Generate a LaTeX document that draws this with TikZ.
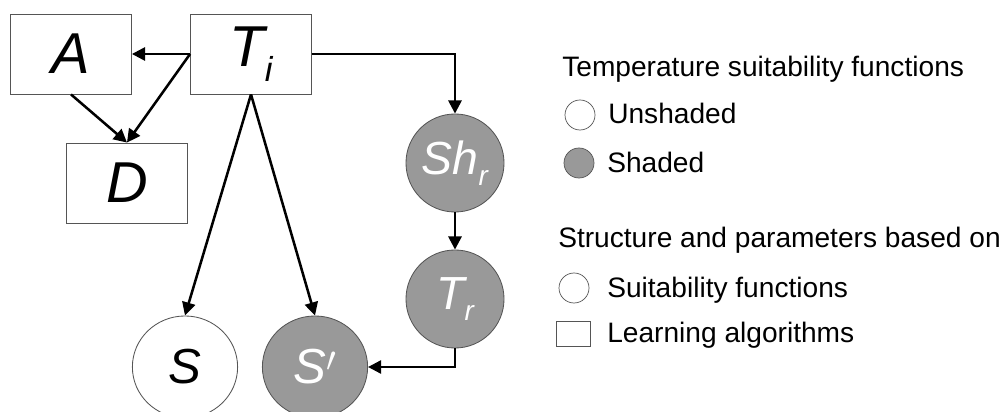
\documentclass[tikz,border=0pt]{standalone}
\usepackage{fontspec}
\setmainfont{Liberation Sans}
\usetikzlibrary{positioning,calc,arrows.meta,shapes.geometric}
\definecolor{shadegray}{HTML}{999999}
\definecolor{edgegray}{HTML}{555555}
\newcommand{\lowsub}[1]{\raisebox{-0.25em}{\scalebox{0.6}{#1}}}
\tikzset{
  figfont/.style={font=\fontsize{20}{24}\selectfont},
  varbox/.style={draw=edgegray, line width=0.6pt, fill=white, inner sep=0pt,
    minimum width=3.025cm, minimum height=2cm,
    font=\fontsize{41}{41}\selectfont\itshape},
  varnode/.style={ellipse, draw=edgegray, line width=0.6pt, inner sep=0pt},
  shadednode/.style={varnode, fill=shadegray, text=white},
  bignode/.style={minimum width=2.45cm, minimum height=2.45cm,
    font=\fontsize{33}{33}\selectfont\itshape},
  smallnode/.style={minimum width=2.63cm, minimum height=2.55cm,
    font=\fontsize{35}{35}\selectfont\itshape},
  legtext/.style={anchor=base west, inner sep=0pt},
  legmark/.style={circle, draw=edgegray, line width=0.5pt, minimum size=0.75cm, inner sep=0pt},
  figarrow/.style={-{Triangle[length=3.3mm, width=3.3mm]}, line width=1.8pt},
}
\begin{document}
\begin{tikzpicture}[x=0.025cm,y=-0.025cm,figfont]
		\useasboundingbox (0,0) rectangle (1000,412);

		% Learned nodes
		\node[varbox] (A) at (71,54) {A};
		\node[varbox] (Ti) at (251,54) {T\lowsub{i}};
		\node[varbox] (D) at (127,183) {D};

		% Suitability function nodes
		\node[shadednode, bignode] (Shr) at (455,163) {Sh\lowsub{r}};
		\node[shadednode, bignode] (Tr) at (455,299) {T\lowsub{r}};
		\node[varnode, smallnode, fill=white] (S) at (185,367) {S};
		\node[shadednode, smallnode] (Sp) at (315,367) {S$'$};

		% Connectors
		\draw[figarrow] (Ti.west) -- (A.east);
		\draw[figarrow] (Ti.west) -- (D.north);
		\draw[figarrow] (A.south) -- (D.north);
		\draw[figarrow] (Ti.south) -- (S.north);
		\draw[figarrow] (Ti.south) -- (Sp.north);
		\draw[figarrow] (Ti.east) -| (Shr.north);
		\draw[figarrow] (Shr.south) -- (Tr.north);
		\draw[figarrow] (Tr.south) |- (Sp.east);

		% Legend
		\node[legtext] (legT) at (562,77) {Temperature suitability functions};
		\node[legmark] (markU) at (580,115) {};
		\node[legtext] (legU) at (608,124) {Unshaded};
		\node[legmark, fill=shadegray] (markS) at (579,163) {};
		\node[legtext] (legS) at (607,173) {Shaded};
		\node[legtext] (legP) at (558,248) {Structure and parameters based on};
		\node[legmark] (markF) at (574,288) {};
		\node[legtext] (legF) at (607,298) {Suitability functions};
		\node[draw=edgegray, line width=0.5pt, minimum width=0.85cm, minimum height=0.625cm, inner sep=0pt] (markL) at (573,334) {};
		\node[legtext] (legL) at (607,343) {Learning algorithms};
	\end{tikzpicture}
\end{document}
